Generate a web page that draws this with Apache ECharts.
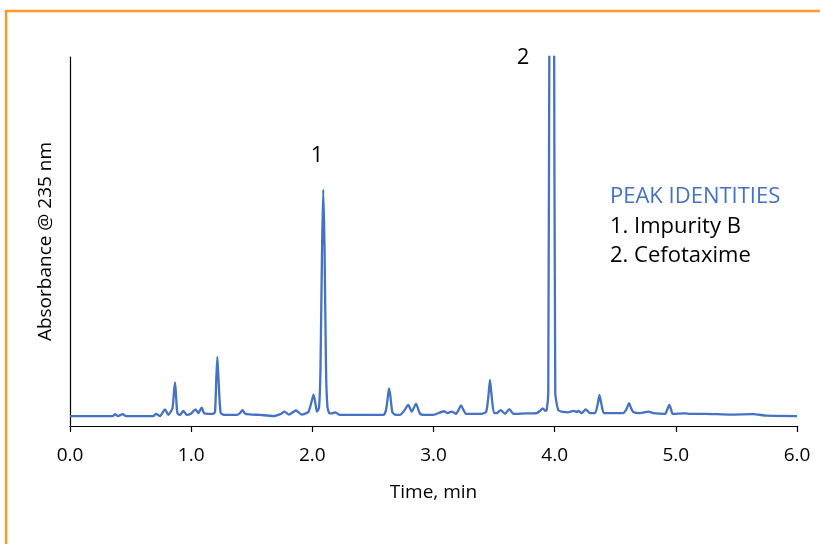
<!DOCTYPE html>
<html>
<head>
<meta charset="utf-8">
<script src="https://cdn.jsdelivr.net/npm/echarts@6/dist/echarts.min.js"></script>
<style>
  body { margin: 0; background: #fff; }
  #chart { width: 820px; height: 544px; }
</style>
</head>
<body>
<div id="chart"></div>
<script>
// retention time (min)
var times = [
  0.000, 0.355, 0.371, 0.396, 0.435, 0.462, 0.687, 0.710, 0.743, 0.784,
  0.811, 0.846, 0.858, 0.867, 0.875, 0.886, 0.908, 0.935, 0.963, 0.996,
  1.037, 1.059, 1.087, 1.106, 1.141, 1.183, 1.197, 1.207, 1.216, 1.226,
  1.244, 1.279, 1.376, 1.403, 1.424, 1.448, 1.568, 1.678, 1.741, 1.770,
  1.807, 1.865, 1.912, 1.967, 1.993, 2.010, 2.026, 2.038, 2.055, 2.067,
  2.080, 2.090, 2.101, 2.113, 2.125, 2.142, 2.162, 2.187, 2.228, 2.393,
  2.586, 2.608, 2.625, 2.633, 2.643, 2.660, 2.682, 2.723, 2.757, 2.792,
  2.820, 2.856, 2.889, 2.930, 2.998, 3.087, 3.114, 3.150, 3.186, 3.206,
  3.227, 3.248, 3.268, 3.384, 3.434, 3.454, 3.466, 3.479, 3.499, 3.521,
  3.554, 3.590, 3.626, 3.659, 3.755, 3.852, 3.879, 3.901, 3.923, 3.934,
  3.947, 3.958, 3.976, 3.994, 4.005, 4.030, 4.071, 4.110, 4.154, 4.182,
  4.195, 4.223, 4.256, 4.292, 4.333, 4.354, 4.370, 4.387, 4.407, 4.484,
  4.567, 4.593, 4.614, 4.630, 4.649, 4.705, 4.773, 4.814, 4.911, 4.931,
  4.946, 4.960, 4.974, 5.075, 5.117, 5.241, 5.447, 5.639, 5.750, 6.000
]
// absorbance, arbitrary units (axis top = 100)
var absorbance = [
  2.7, 2.7, 3.2, 2.7, 3.2, 2.7, 2.7, 3.3, 2.7, 4.5,
  3.0, 4.9, 9.2, 11.8, 8.4, 3.5, 3.0, 4.1, 3.0, 3.3,
  4.5, 3.5, 5.0, 3.5, 3.3, 3.3, 3.8, 12.5, 18.7, 12.5,
  3.5, 3.0, 3.0, 3.5, 4.3, 3.3, 3.0, 2.7, 3.3, 3.9,
  3.1, 4.2, 3.1, 3.8, 6.5, 8.5, 6.0, 3.9, 4.9, 15.2,
  47.7, 64.1, 47.7, 15.2, 5.1, 3.4, 3.4, 3.7, 3.0, 3.0,
  3.0, 4.3, 8.4, 10.2, 8.4, 3.8, 3.1, 3.0, 4.1, 5.7,
  3.9, 6.0, 3.3, 3.0, 3.0, 4.0, 3.5, 3.9, 3.3, 4.3,
  5.6, 4.3, 3.3, 3.3, 3.8, 8.4, 12.5, 8.4, 3.5, 3.5,
  4.3, 3.3, 4.6, 3.3, 3.4, 3.5, 4.1, 4.8, 4.1, 4.3,
  9.0, 125, 200, 125, 9.0, 4.3, 3.8, 3.7, 4.1, 3.8,
  4.1, 3.5, 4.5, 3.5, 3.5, 5.7, 8.4, 5.7, 3.5, 3.5,
  3.5, 4.6, 6.2, 4.9, 3.8, 3.5, 3.9, 3.5, 3.3, 4.6,
  5.7, 4.6, 3.3, 3.4, 3.3, 3.3, 3.1, 3.2, 2.8, 2.7
]
var peakLabels = ['1', '2']
var identitiesTitle = 'PEAK IDENTITIES'
var identities = ['1. Impurity B', '2. Cefotaxime']

var chart = echarts.init(document.getElementById('chart'))
var trace = times.map(function (t, i) { return [t, absorbance[i]] })
var font = 'Open Sans'
var noteFont = '22px "Open Sans"'

chart.setOption({
  animation: false,
  backgroundColor: '#fff',
  grid: { left: 70, right: 23, top: 57, bottom: 118 },
  xAxis: {
    type: 'value',
    min: 0,
    max: 6,
    interval: 1,
    name: 'Time, min',
    nameLocation: 'middle',
    nameGap: 57,
    nameTextStyle: { color: '#000', fontSize: 19, fontFamily: font },
    axisLine: { lineStyle: { color: '#000', width: 1.2 } },
    axisTick: { show: true, length: 6, lineStyle: { color: '#000', width: 1.2 } },
    axisLabel: {
      color: '#000', fontSize: 19, fontFamily: font, margin: 20,
      formatter: function (v) { return v.toFixed(1) }
    },
    splitLine: { show: false }
  },
  yAxis: {
    type: 'value',
    min: 0,
    max: 100,
    name: 'Absorbance @ 235 nm',
    nameLocation: 'middle',
    nameGap: 15,
    nameRotate: 90,
    nameTextStyle: { color: '#000', fontSize: 19, fontFamily: font },
    axisLine: { show: true, lineStyle: { color: '#000', width: 1.2 } },
    axisTick: { show: false },
    axisLabel: { show: false },
    splitLine: { show: false }
  },
  series: [
    {
      type: 'line',
      data: trace,
      showSymbol: false,
      smooth: 0.2,
      clip: true,
      lineStyle: { color: '#4472C4', width: 2.3 }
    }
  ],
  graphic: [
    {
      type: 'rect',
      shape: { x: 6, y: 11, width: 900, height: 700 },
      style: { fill: 'none', stroke: '#F79B2E', lineWidth: 2.5 },
      silent: true
    },
    {
      type: 'text', x: 317, y: 156,
      style: { text: peakLabels[0], fill: '#000', font: noteFont, align: 'center', verticalAlign: 'middle' }
    },
    {
      type: 'text', x: 523, y: 58,
      style: { text: peakLabels[1], fill: '#000', font: noteFont, align: 'center', verticalAlign: 'middle' }
    },
    {
      type: 'text', x: 610, y: 197,
      style: { text: identitiesTitle, fill: '#4472C4', font: noteFont, verticalAlign: 'middle' }
    },
    {
      type: 'text', x: 610, y: 227,
      style: { text: identities[0], fill: '#000', font: noteFont, verticalAlign: 'middle' }
    },
    {
      type: 'text', x: 610, y: 256,
      style: { text: identities[1], fill: '#000', font: noteFont, verticalAlign: 'middle' }
    }
  ]
})
</script>
</body>
</html>
